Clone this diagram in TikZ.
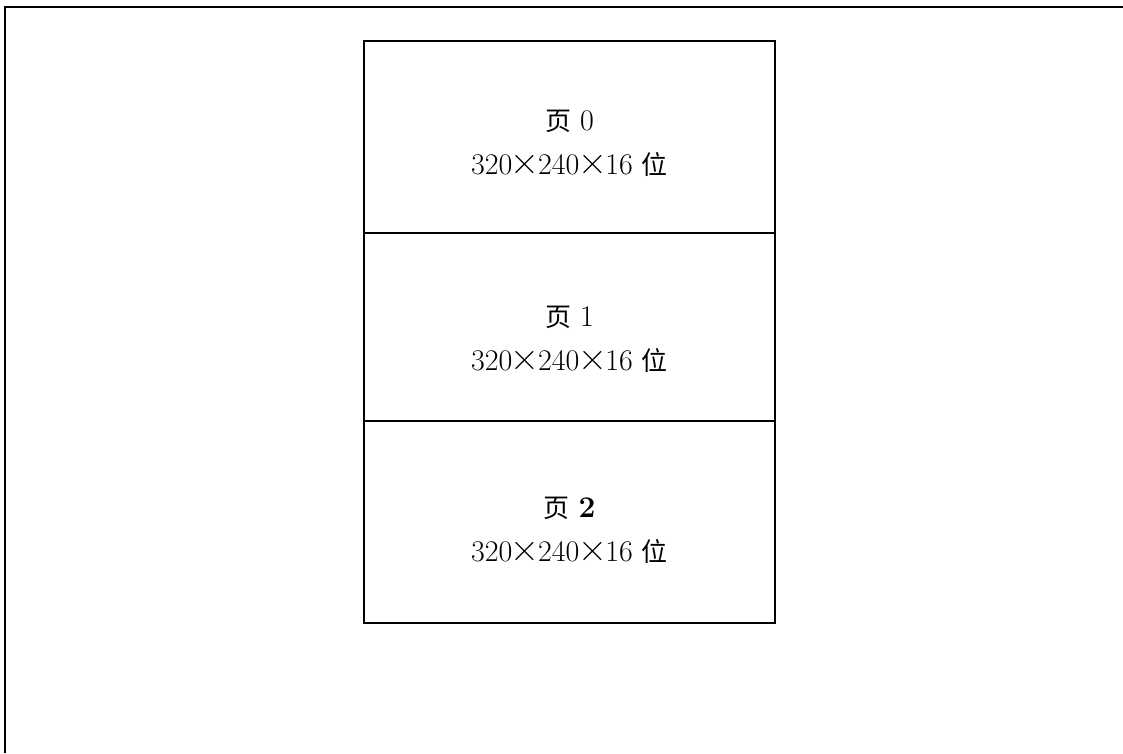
\documentclass[tikz,border=0pt]{standalone}
\usepackage{fontspec}
\newfontfamily\cjk{Noto Sans CJK SC}
\newcommand{\zh}[1]{{\cjk\fontsize{26}{40}\selectfont #1}}
\newcommand{\tms}{{\kern-1.5pt\fontsize{40}{40}\selectfont ×\kern-1.5pt}}
\begin{document}
\begin{tikzpicture}[x=1pt,y=-1pt,
  pagebox/.style={draw=black,line width=1.4pt,minimum width=411pt,inner sep=0pt,outer sep=0pt},
  pagetext/.style={align=center,font=\fontsize{30}{44}\selectfont}]
\useasboundingbox (0,0) rectangle (1123,753);
\draw[line width=2pt] (5,753) -- (5,6.5) -- (1123,6.5);
\node[pagebox,minimum height=192pt,anchor=north west] (p0) at (364,41) {};
\node[pagebox,minimum height=188pt,anchor=north west] (p1) at (364,233) {};
\node[pagebox,minimum height=202pt,anchor=north west] (p2) at (364,421) {};
\draw[line width=2.6pt] (p0.south west) -- (p0.south east);
\draw[line width=2.6pt] (p1.south west) -- (p1.south east);
\node[pagetext] (t0) at (569.5,143) {\zh{页} 0\\320\tms240\tms16 \zh{位}};
\node[pagetext] (t1) at (569.5,339) {\zh{页} 1\\320\tms240\tms16 \zh{位}};
\node[pagetext] (t2) at (569.5,530) {\zh{页} \textbf{2}\\320\tms240\tms16 \zh{位}};
\end{tikzpicture}
\end{document}
